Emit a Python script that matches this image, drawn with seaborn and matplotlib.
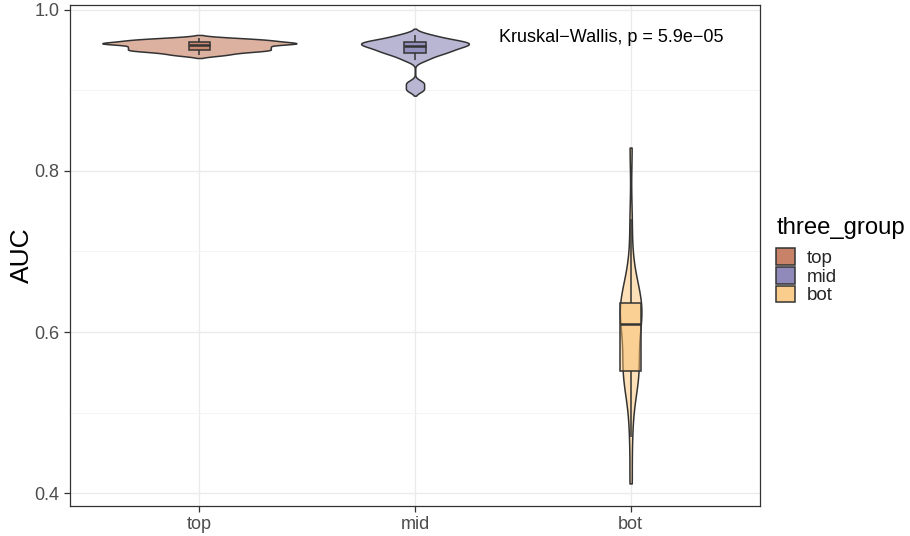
import numpy as np
import pandas as pd
import seaborn as sns
import matplotlib.pyplot as plt
from matplotlib.patches import Patch
from matplotlib.ticker import MultipleLocator
from matplotlib.colors import to_rgba

# -----------------------------
# Data (AUC per group)
# -----------------------------
groups = ["top", "mid", "bot"]
top_auc = [0.944, 0.947, 0.949, 0.950, 0.951, 0.953, 0.954, 0.955,
           0.958, 0.958, 0.958, 0.959, 0.961, 0.962, 0.963, 0.965]
mid_auc = [0.901, 0.909, 0.938, 0.943, 0.946, 0.948, 0.950, 0.952, 0.954,
           0.955, 0.957, 0.958, 0.959, 0.960, 0.961, 0.963, 0.966, 0.969]
bot_auc = [0.412, 0.470, 0.510, 0.530, 0.542, 0.548, 0.551, 0.553, 0.560,
           0.570, 0.585, 0.597, 0.606, 0.614, 0.620, 0.625, 0.629, 0.632,
           0.634, 0.636, 0.642, 0.650, 0.664, 0.685, 0.740, 0.829]
p_label = "Kruskal\u2212Wallis, p = 5.9e\u221205"

# styling per group
base_cols = ["#BB6341", "#736DA9", "#FBC171"]
violin_cols = ["#DDB1A0", "#B9B6D4", "#FDE0B8"]
violin_width = [0.90, 0.50, 0.10]
kde_bw = [0.0019, 0.0038, 0.028]
kde_cut = [2, 2, 0]
edge = "#333333"

df = pd.DataFrame({
    "three_group": np.repeat(groups, [len(top_auc), len(mid_auc), len(bot_auc)]),
    "AUC": top_auc + mid_auc + bot_auc,
})

sns.set_theme(style="white")
plt.rcParams["font.family"] = ["Liberation Sans", "DejaVu Sans"]

fig = plt.figure(figsize=(9.1, 5.36), dpi=100)
ax = fig.add_axes([70 / 910, 30 / 536, 690 / 910, 501 / 536])

# -----------------------------
# Violins, one call per group
# -----------------------------
for g, col, w, bw, cut in zip(groups, violin_cols, violin_width, kde_bw, kde_cut):
    sub = df[df["three_group"] == g]
    sns.violinplot(
        data=sub, x="three_group", y="AUC", order=groups,
        color=col, saturation=1, inner=None, cut=cut,
        density_norm="width", width=w,
        bw_method=bw / sub["AUC"].std(), linewidth=1.1, linecolor=edge,
        ax=ax,
    )

# -----------------------------
# Boxplots on top
# -----------------------------
n_before = len(ax.patches)
sns.boxplot(
    data=df, x="three_group", y="AUC", hue="three_group",
    order=groups, hue_order=groups, palette=base_cols, saturation=1,
    width=0.1, showfliers=False, showcaps=False,
    linewidth=1.1, linecolor=edge, legend=False, ax=ax,
    medianprops=dict(linewidth=1.8, color=edge),
)
for patch, c in zip(ax.patches[n_before:], base_cols):
    patch.set_facecolor(to_rgba(c, 0.5))

ax.set_xlim(-0.6, 2.6)
ax.set_ylim(0.384, 1.006)
ax.yaxis.set_major_locator(MultipleLocator(0.2))
ax.yaxis.set_minor_locator(MultipleLocator(0.1))
ax.set_axisbelow(True)
ax.grid(which="major", color="#EBEBEB", linewidth=1.0)
ax.grid(which="minor", axis="y", color="#F2F2F2", linewidth=0.6)
for s in ax.spines.values():
    s.set_color(edge)
    s.set_linewidth(0.9)
ax.tick_params(axis="both", which="major", length=4, width=0.9, color=edge,
               labelsize=13, labelcolor="#4D4D4D", direction="out",
               left=True, bottom=True)
ax.tick_params(axis="y", which="minor", length=0)
ax.set_xlabel("")
ax.set_ylabel("AUC", fontsize=19, color="black")
ax.yaxis.set_label_coords(-0.052, 0.5)

ax.text(1.39, 0.966, p_label, fontsize=13, ha="left", va="center", color="black")

# legend: title drawn as text, keys stacked below
fig.text(777 / 910, 1 - 228 / 536, "three_group", fontsize=17.2,
         ha="left", va="center", color="black")
handles = [Patch(facecolor=to_rgba(c, 0.8), edgecolor=edge, linewidth=1.1) for c in base_cols]
leg = fig.legend(handles, groups, loc="upper left",
                 bbox_to_anchor=(776 / 910, 1 - 248 / 536), frameon=False,
                 fontsize=13.5, handlelength=1.0, handleheight=1.0,
                 handletextpad=0.65, labelspacing=0.0,
                 borderaxespad=0, borderpad=0)

fig.savefig("out.png", dpi=100)
